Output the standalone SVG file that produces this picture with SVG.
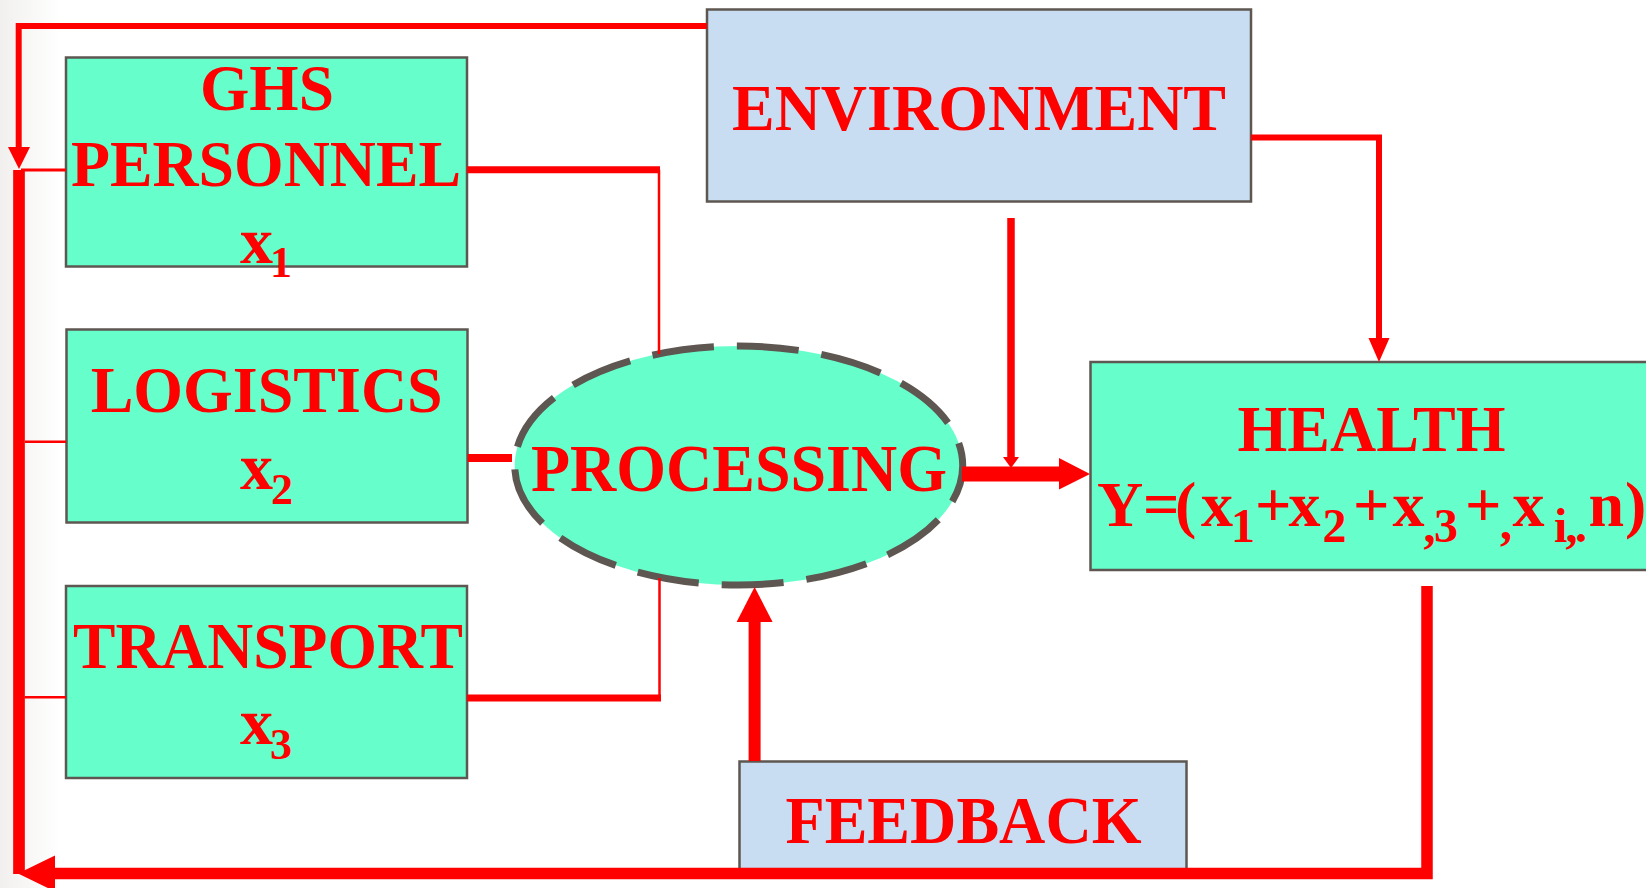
<svg xmlns="http://www.w3.org/2000/svg" width="1646" height="888" viewBox="0 0 1646 888">
<defs>
<linearGradient id="edge" x1="0" x2="1" y1="0" y2="0"><stop offset="0" stop-color="#f1f0ee"/><stop offset="1" stop-color="#ffffff"/></linearGradient>
<style>
.box{fill:#66FFCC;stroke:#5E5751;stroke-width:2.5}
.blue{fill:#C8DDF1;stroke:#5E5751;stroke-width:2.5}
.t{font-family:"Liberation Serif","Times New Roman",serif;font-weight:bold;fill:#FF0000}
.m{text-anchor:middle}
.sub{font-size:48px}
.ln{fill:none;stroke:#FF0000;stroke-linecap:butt;stroke-linejoin:miter}
.ah{fill:#FF0000}
</style>
</defs>
<rect width="1646" height="888" fill="#ffffff"/>
<rect width="60" height="888" fill="url(#edge)"/>

<g id="ghs-personnel">
<rect class="box" x="66" y="57.5" width="401" height="209"/>
<text class="t m" x="267" y="110" font-size="66" textLength="134" lengthAdjust="spacingAndGlyphs">GHS</text>
<text class="t m" x="266" y="186" font-size="66" textLength="390" lengthAdjust="spacingAndGlyphs">PERSONNEL</text>
<text class="t" x="240" y="263" font-size="66">x</text>
<text class="t" x="270" y="277" font-size="44">1</text>
</g>

<g id="logistics">
<rect class="box" x="66.5" y="329.5" width="401" height="193"/>
<text class="t m" x="266.7" y="411.7" font-size="66" textLength="352" lengthAdjust="spacingAndGlyphs">LOGISTICS</text>
<text class="t" x="240" y="489.3" font-size="66">x</text>
<text class="t" x="271" y="504" font-size="44">2</text>
</g>

<g id="transport">
<rect class="box" x="66" y="586" width="401" height="192"/>
<text class="t m" x="268" y="667.7" font-size="65" textLength="390" lengthAdjust="spacingAndGlyphs">TRANSPORT</text>
<text class="t" x="240" y="744.3" font-size="66">x</text>
<text class="t" x="270" y="759" font-size="44">3</text>
</g>

<g id="environment">
<rect class="blue" x="707" y="9.5" width="544" height="192"/>
<text class="t m" x="979" y="130" font-size="65.5" textLength="494" lengthAdjust="spacingAndGlyphs">ENVIRONMENT</text>
</g>

<g id="processing">
<ellipse cx="738.7" cy="465.5" rx="224" ry="119.5" fill="#66FFCC" stroke="#5E5751" stroke-width="7" stroke-dasharray="62 23" stroke-dashoffset="24"/>
<text class="t m" x="739" y="490.7" font-size="67" textLength="416" lengthAdjust="spacingAndGlyphs">PROCESSING</text>
</g>

<g id="health">
<rect class="box" x="1090.5" y="362" width="580" height="208"/>
<text class="t m" x="1371.5" y="451" font-size="65" textLength="268" lengthAdjust="spacingAndGlyphs">HEALTH</text>
<text class="t" font-size="64" y="526"><tspan x="1097 1143 1175 1201">Y=(x</tspan><tspan class="sub" x="1231" dy="15.7">1</tspan><tspan x="1255 1288.5" dy="-15.7">+x</tspan><tspan class="sub" x="1322.5" dy="15.7">2</tspan><tspan x="1353 1392.5" dy="-15.7">+x</tspan><tspan class="sub" x="1423.5 1434" dy="15.7">,3</tspan><tspan x="1465" dy="-15.7">+</tspan><tspan class="sub" x="1500" dy="13">,</tspan><tspan x="1512.5" dy="-13">x</tspan><tspan class="sub" x="1554 1565.5 1575" dy="15.7">i,.</tspan><tspan x="1588.5 1625" dy="-15.7">n)</tspan></text>
</g>

<g id="feedback">
<rect class="blue" x="739.5" y="761.5" width="447" height="115"/>
<text class="t m" x="963.5" y="843" font-size="68" textLength="356" lengthAdjust="spacingAndGlyphs">FEEDBACK</text>
</g>

<g id="connectors">
<path class="ln" stroke-width="6" d="M707 26 H18.7 V148"/>
<polygon class="ah" points="8,147 30,147 19,169"/>
<path class="ln" stroke-width="11.7" d="M19 170 V874"/>
<path class="ln" stroke-width="3" d="M21 170 H66"/>
<path class="ln" stroke-width="2.5" d="M25 441.7 H66"/>
<path class="ln" stroke-width="2.5" d="M24.5 697.3 H66"/>
<path class="ln" stroke-width="7" d="M467 169.7 H660"/>
<path class="ln" stroke-width="2.5" d="M659 169.7 V354"/>
<path class="ln" stroke-width="7" d="M467 698 H661"/>
<path class="ln" stroke-width="2.5" d="M659.5 698 V578"/>
<path class="ln" stroke-width="8" d="M467.7 458 H512"/>
<path class="ln" stroke-width="6" d="M1251 137.5 H1379 V339"/>
<polygon class="ah" points="1368.5,338 1389.5,338 1379,362"/>
<path class="ln" stroke-width="7.5" d="M1011 218 V459"/>
<polygon class="ah" points="1003,457 1019,457 1011,468"/>
<path class="ln" stroke-width="15" d="M962 474 H1060"/>
<polygon class="ah" points="1059,458 1059,489.5 1090,474"/>
<path class="ln" stroke-width="12" d="M754.6 761 V620"/>
<polygon class="ah" points="736.6,622 772.6,622 754.6,587"/>
<path class="ln" stroke-width="11.5" d="M1427 586 V873.5 H54"/>
<polygon class="ah" points="55,855.5 55,891.5 18,873.5"/>
</g>
</svg>
